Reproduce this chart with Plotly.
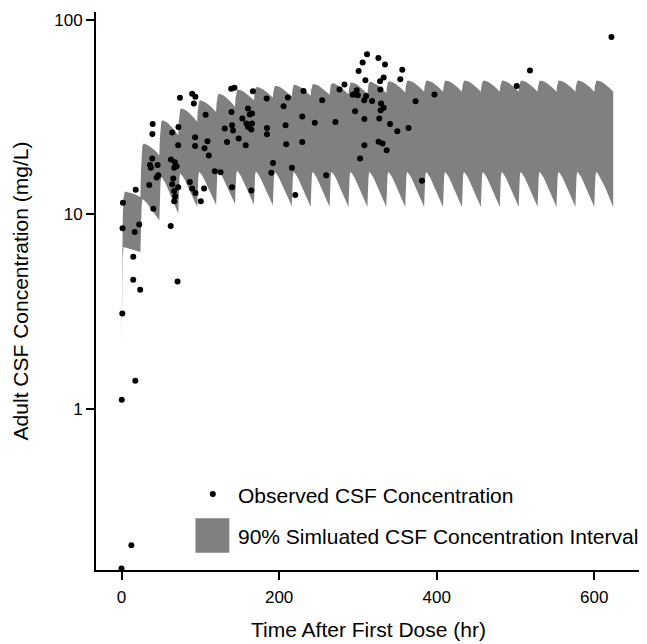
import math
import plotly.graph_objects as go

# ---------------- Observed CSF concentrations ----------------
obs_time = [
    0, 12.5, 0.3, 17.5, 1.0, 23.7, 14.8, 71.1, 14.9, 1.3,
    16.7, 22.5, 62.4, 1.8, 18.0, 35.2, 40.3, 39.5, 39.2, 39.0,
    36.1, 37.3, 45.8, 46.6, 44.6, 74.1, 89.6, 93.7, 91.8, 64.3,
    72.2, 71.9, 62.7, 67.7, 69.9, 66.8, 65.6, 64.3, 71.9, 66.8,
    68.1, 66.8, 93.4, 93.4, 106.7, 109.1, 105.3, 110.8, 86.7, 89.6,
    93.9, 100.6, 104.8, 118.4, 125.6, 140.3, 164.8, 139.5, 131.0, 133.9,
    141.5, 140.3, 148.7, 157.6, 139.2, 143.3, 166.8, 153.4, 160.5, 162.7,
    165.6, 158.5, 160.5, 164.8, 165.6, 184.2, 184.6, 184.6, 192.2, 190.1,
    205.7, 208.2, 209.1, 211.1, 216.2, 220.5, 229.4, 229.4, 231.0, 245.3,
    254.7, 259.7, 271.5, 276.6, 282.9, 296.5, 293.4, 298.5, 300.0, 295.6,
    300.9, 306.0, 311.6, 309.5, 308.0, 308.2, 308.2, 302.8, 310.4, 326.0,
    334.4, 332.7, 328.1, 328.5, 318.0, 329.4, 332.7, 328.9, 327.2, 340.8,
    326.3, 331.4, 336.5, 350.0, 356.3, 353.8, 364.3, 373.2, 381.3, 397.2,
    501.5, 518.4, 621.8,
]
obs_conc = [
    0.15, 0.198, 1.11, 1.39, 3.09, 4.10, 4.61, 4.52, 6.06, 8.50,
    8.13, 8.88, 8.73, 11.5, 13.4, 14.2, 10.7, 29.2, 26.0, 19.4,
    18.0, 17.4, 18.0, 15.9, 15.5, 39.9, 41.9, 40.4, 37.3, 26.4,
    28.2, 22.7, 19.2, 18.6, 17.7, 17.4, 15.3, 14.3, 13.8, 13.2,
    12.4, 11.7, 25.0, 22.5, 32.6, 23.8, 21.9, 20.1, 14.7, 13.6,
    12.9, 11.7, 13.6, 16.7, 16.5, 13.8, 13.3, 33.7, 27.7, 23.6,
    27.1, 28.8, 24.6, 22.7, 44.4, 44.9, 43.1, 31.2, 35.1, 32.7,
    33.1, 29.4, 28.2, 27.4, 29.4, 39.5, 27.9, 25.9, 18.4, 16.4,
    36.1, 28.8, 23.0, 40.0, 17.4, 12.6, 32.0, 23.6, 43.3, 29.7,
    38.7, 15.9, 29.9, 44.0, 46.7, 34.0, 41.4, 43.6, 41.1, 41.6,
    54.8, 60.6, 66.8, 49.1, 38.7, 31.0, 22.7, 19.4, 40.8, 64.0,
    59.2, 50.7, 48.5, 44.0, 38.4, 37.3, 35.5, 34.4, 31.2, 29.2,
    23.7, 23.2, 21.4, 26.8, 55.7, 49.7, 27.9, 38.3, 14.9, 41.5,
    45.9, 55.1, 82.0,
]

# ---------------- 90% simulated interval (q24h dosing) ----------------
dose_time = [0, 24, 48, 72, 96, 120, 144, 168, 192, 216, 240, 264, 288,
             312, 336, 360, 384, 408, 432, 456, 480, 504, 528, 552, 576, 600]
band_start = 2.0
upper_peak = [13.1, 23.2, 30.6, 35.2, 38.7, 41.9, 44.0, 45.4, 46.0, 46.5, 47.0, 47.4, 47.8,
              48.2, 48.6, 49.0, 49.0, 49.0, 49.0, 49.0, 49.0, 49.0, 49.0, 49.0, 49.0, 49.0]
upper_trough = [12.3, 20.2, 25.6, 30.0, 33.7, 35.8, 38.7, 40.0, 40.5, 40.9, 41.3, 41.6, 41.9,
                42.2, 42.5, 42.8, 42.8, 42.8, 42.8, 42.8, 42.8, 42.8, 42.8, 42.8, 42.8, 42.8]
lower_peak = [6.8, 12.0, 15.6, 16.3, 16.6, 16.8, 16.8, 16.7, 16.6, 16.6, 16.6, 16.6, 16.6,
              16.6, 16.6, 16.6, 16.6, 16.6, 16.6, 16.6, 16.6, 16.6, 16.6, 16.6, 16.6, 16.6]
lower_trough = [6.4, 9.3, 10.1, 10.9, 11.2, 11.3, 11.2, 11.1, 11.0, 10.9, 10.9, 10.9, 10.9,
                10.9, 10.9, 10.9, 10.9, 10.9, 10.9, 10.9, 10.9, 10.9, 10.9, 10.9, 10.9, 10.9]

# shape of one dosing-interval tooth (hours after dose, fraction of swing)
upper_rise_tau = [0, 0.7, 1.5, 2.5, 4.0]
upper_rise_frac = [0, 0.5, 0.82, 0.96, 1.0]
upper_fall_tau = [4.0, 6, 9, 12, 15, 18, 21, 24]
upper_fall_frac = [1.0, 0.97, 0.88, 0.75, 0.6, 0.42, 0.22, 0.0]
lower_rise_tau = [0, 0.7, 1.5, 2.5]
lower_rise_frac = [0, 0.5, 0.88, 1.0]
lower_fall_tau = [2.5, 5, 8, 12, 16, 20, 23, 24]
lower_fall_frac = [1.0, 0.93, 0.82, 0.64, 0.44, 0.22, 0.06, 0.0]

x_ticks = [0, 200, 400, 600]
y_ticks = [1, 10, 100]


def bound(peaks, troughs, rise_tau, rise_frac, fall_tau, fall_frac):
    xs, ys = [], []
    prev = band_start
    for k, t0 in enumerate(dose_time):
        lp, lk, lt = math.log10(prev), math.log10(peaks[k]), math.log10(troughs[k])
        for i, (tau, f) in enumerate(zip(rise_tau, rise_frac)):
            if k > 0 and i == 0:
                continue
            xs.append(t0 + tau)
            ys.append(10 ** (lp + f * (lk - lp)))
        for tau, f in list(zip(fall_tau, fall_frac))[1:]:
            xs.append(t0 + tau)
            ys.append(10 ** (lt + f * (lk - lt)))
        prev = troughs[k]
    return xs, ys


ux, uy = bound(upper_peak, upper_trough, upper_rise_tau, upper_rise_frac, upper_fall_tau, upper_fall_frac)
lx, ly = bound(lower_peak, lower_trough, lower_rise_tau, lower_rise_frac, lower_fall_tau, lower_fall_frac)

band_x = ux + lx[::-1]
band_y = uy + ly[::-1]

GREY = "#808080"
FONT = "Liberation Sans, Arial, sans-serif"

fig = go.Figure()
fig.add_trace(go.Scatter(
    x=band_x, y=band_y, mode="lines", fill="toself", fillcolor=GREY,
    line=dict(width=0, color=GREY), name="90% Simluated CSF Concentration Interval",
    showlegend=False, hoverinfo="skip",
))
fig.add_trace(go.Scatter(
    x=obs_time, y=obs_conc, mode="markers",
    marker=dict(color="black", size=6, line=dict(width=0)),
    name="Observed CSF Concentration", showlegend=False,
))

# page has an 8px body margin; plot-area edges in page pixels
PAGE_OFF = 8
L, R, T, B = 96, 641, 12, 570
FIG_W, FIG_H = 647, 636


def px(x):
    return (x - L) / (R - L)


def py(y):
    return (B - y) / (B - T)


fig.add_shape(type="circle", xref="paper", yref="paper", xsizemode="pixel", ysizemode="pixel",
              xanchor=px(212.8), yanchor=py(494), x0=-3, x1=3, y0=-3, y1=3,
              fillcolor="black", line=dict(width=0))
fig.add_shape(type="rect", xref="paper", yref="paper",
              x0=px(195.5), x1=px(229.3), y0=py(552.7), y1=py(518.3),
              fillcolor=GREY, line=dict(width=0))
fig.add_annotation(text="Observed CSF Concentration", xref="paper", yref="paper",
                   x=px(236), y=py(495), xanchor="left", yanchor="middle", showarrow=False,
                   font=dict(family=FONT, size=21, color="black"))
fig.add_annotation(text="90% Simluated CSF Concentration Interval", xref="paper", yref="paper",
                   x=px(236), y=py(536.7), xanchor="left", yanchor="middle", showarrow=False,
                   font=dict(family=FONT, size=21, color="black"))

axis_common = dict(
    showline=True, linewidth=2, linecolor="black", mirror=False,
    ticks="outside", ticklen=8, tickwidth=2, tickcolor="black",
    showgrid=False, zeroline=False,
    tickfont=dict(family=FONT, size=17, color="black"),
)

fig.update_layout(
    width=FIG_W, height=FIG_H,
    margin=dict(l=L - PAGE_OFF, r=FIG_W + PAGE_OFF - R, t=T - PAGE_OFF, b=FIG_H + PAGE_OFF - B,
                autoexpand=False),
    paper_bgcolor="white", plot_bgcolor="white",
    font=dict(family=FONT, color="black"),
    xaxis=dict(range=[-32.4, 659.3], tickvals=x_ticks, ticklabelstandoff=3,
               title=dict(text="Time After First Dose (hr)", font=dict(family=FONT, size=21), standoff=16),
               **axis_common),
    yaxis=dict(type="log", range=[-0.831, 2.0427], tickvals=y_ticks, ticktext=[str(v) for v in y_ticks],
               title=dict(text="Adult CSF Concentration (mg/L)", font=dict(family=FONT, size=21), standoff=20),
               **axis_common),
)

fig.write_html("out.html")
